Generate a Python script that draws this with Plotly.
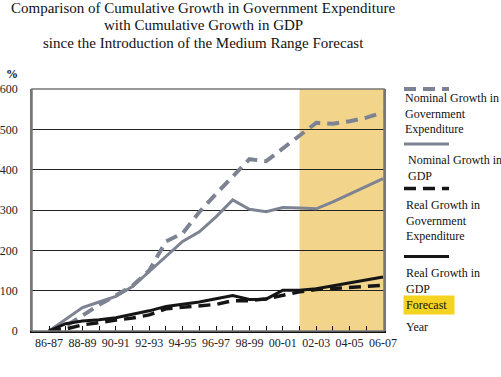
import plotly.graph_objects as go

years = ["86-87", "87-88", "88-89", "89-90", "90-91", "91-92", "92-93", "93-94", "94-95", "95-96",
         "96-97", "97-98", "98-99", "99-00", "00-01", "01-02", "02-03", "03-04", "04-05", "05-06", "06-07"]
nominal_gov_exp = [0, 12, 38, 65, 88, 112, 150, 222, 242, 295, 340, 382, 426, 421, 452, 483, 516, 514, 520, 529, 542]
nominal_gdp = [0, 30, 58, 72, 86, 110, 148, 185, 222, 246, 283, 325, 302, 296, 306, 305, 303, 320, 340, 358, 378]
real_gov_exp = [0, 5, 15, 22, 27, 32, 40, 55, 58, 63, 66, 75, 75, 80, 89, 97, 103, 105, 107, 110, 113]
real_gdp = [0, 18, 25, 28, 33, 41, 50, 61, 66, 72, 80, 88, 78, 79, 101, 101, 105, 112, 119, 126, 134]
y_ticks = [0, 100, 200, 300, 400, 500, 600]
x_labels = [y if i % 2 == 0 else "" for i, y in enumerate(years)]
title_lines = ["Comparison of Cumulative Growth in Government Expenditure",
               "with Cumulative Growth in GDP",
               "since the Introduction of the Medium Range Forecast"]

GRAY = "#7d8392"
BLACK = "#151515"
SERIF = "Liberation Serif"

W, H = 501, 377
L, R, T, B = 32, 384, 89, 331
PW, PH = R - L, B - T


def px(x):
    return (x - L) / PW


def py(y):
    return (B - y) / PH


fig = go.Figure()
fig.add_trace(go.Scatter(x=years, y=nominal_gdp, mode="lines",
                         line=dict(color=GRAY, width=3), showlegend=False, hoverinfo="skip"))
fig.add_trace(go.Scatter(x=years, y=nominal_gov_exp, mode="lines",
                         line=dict(color=GRAY, width=4, dash="12px,7px"), showlegend=False, hoverinfo="skip"))
fig.add_trace(go.Scatter(x=years, y=real_gdp, mode="lines",
                         line=dict(color=BLACK, width=3), showlegend=False, hoverinfo="skip"))
fig.add_trace(go.Scatter(x=years, y=real_gov_exp, mode="lines",
                         line=dict(color=BLACK, width=3.5, dash="12px,7px"), showlegend=False, hoverinfo="skip"))

# forecast shading
fig.add_shape(type="rect", xref="x", yref="paper", x0=15, x1=20.06, y0=0, y1=1,
              fillcolor="#f2d58a", line=dict(width=0), layer="below")

# custom legend
shapes = [
    (89, GRAY, 4, "12px,7px"),
    (144, GRAY, 3, "solid"),
    (188.5, BLACK, 3.5, "12px,7px"),
    (256.5, BLACK, 3, "solid"),
]
for ypx, col, w, d in shapes:
    fig.add_shape(type="line", xref="paper", yref="paper",
                  x0=px(404), x1=px(449), y0=py(ypx), y1=py(ypx),
                  line=dict(color=col, width=w, dash=d))

texts = [
    (97, 403, "Nominal Growth in<br>Government<br>Expenditure"),
    (159, 406, "Nominal Growth in<br>GDP"),
    (204, 404, "Real Growth in<br>Government<br>Expenditure"),
    (272, 404, "Real Growth in<br>GDP"),
    (326, 404, "Year"),
]
for ypx, xpx, t in texts:
    fig.add_annotation(xref="paper", yref="paper", x=px(xpx), y=py(ypx - 8),
                       text=t, showarrow=False, xanchor="left", yanchor="top", align="left",
                       font=dict(family=SERIF, size=12, color="#111"))
fig.add_annotation(xref="paper", yref="paper", x=px(403), y=py(304.5),
                   text="Forecast", showarrow=False, xanchor="left", yanchor="middle",
                   bgcolor="#f5d320", borderpad=2, width=46, align="left",
                   font=dict(family=SERIF, size=12, color="#111"))
fig.add_annotation(xref="paper", yref="paper", x=px(12), y=py(74),
                   text="<b>%</b>", showarrow=False, xanchor="center", yanchor="middle",
                   font=dict(family=SERIF, size=12, color="#111"))
for i, line in enumerate(title_lines):
    fig.add_annotation(xref="paper", yref="paper", x=px(203), y=py(8 + 17.5 * i),
                       text=line, showarrow=False, xanchor="center", yanchor="middle",
                       font=dict(family=SERIF, size=15, color="#111"))

fig.update_layout(
    width=W, height=H,
    margin=dict(l=L, r=W - R, t=T, b=H - B),
    paper_bgcolor="white", plot_bgcolor="white",
    font=dict(family=SERIF, size=12, color="#111"),
    hovermode=False,
)
fig.update_xaxes(type="category", range=[-1.02, 20.06], tickmode="array", tickvals=years, ticktext=x_labels,
                 ticks="inside", ticklen=5, tickcolor="#111", tickwidth=1, automargin=False,
                 showline=True, linecolor="#111", linewidth=1.5, mirror=False, showgrid=False,
                 tickfont=dict(family=SERIF, size=12, color="#222"), tickangle=0)
fig.update_yaxes(range=[0, 600], tickvals=y_ticks, showgrid=True, gridcolor="#222", gridwidth=1,
                 showline=True, linecolor="#777", linewidth=1.5, mirror=True, ticks="",
                 zeroline=False, ticklabelstandoff=10, automargin=False,
                 tickfont=dict(family=SERIF, size=12, color="#222"))
fig.add_shape(type="rect", xref="paper", yref="paper", x0=0, x1=1, y0=0, y1=1,
              line=dict(color="#777", width=1.5), fillcolor="rgba(0,0,0,0)", layer="above")

fig.write_html("out.html", config={"displayModeBar": False},
               post_script="document.body.style.margin='0';document.body.style.padding='0';")
